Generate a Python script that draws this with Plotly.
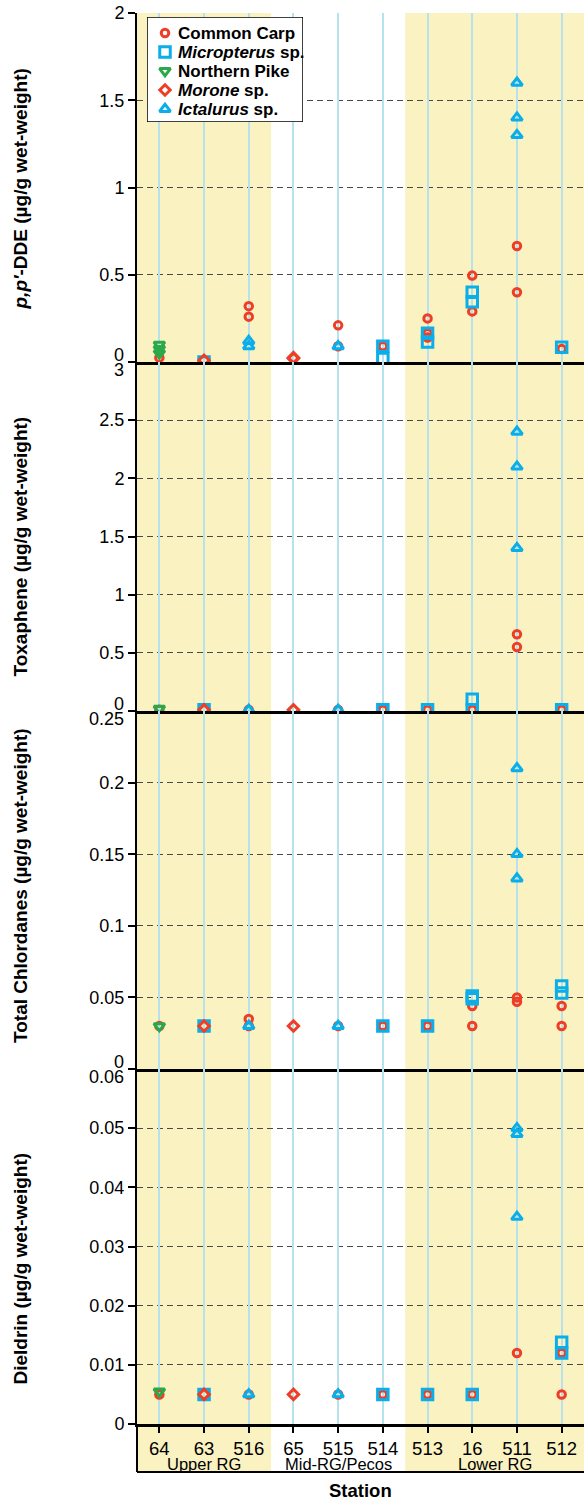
import plotly.graph_objects as go
from plotly.subplots import make_subplots

# ---- stations and river reaches ----
stations = ["64", "63", "516", "65", "515", "514", "513", "16", "511", "512"]
station_reach = ["Upper RG", "Upper RG", "Upper RG",
                 "Mid-RG/Pecos", "Mid-RG/Pecos", "Mid-RG/Pecos",
                 "Lower RG", "Lower RG", "Lower RG", "Lower RG"]
reaches = ["Upper RG", "Mid-RG/Pecos", "Lower RG"]
shaded_reaches = ["Upper RG", "Lower RG"]

# ---- fish taxa ----
species_labels = ["Common Carp", "<i>Micropterus</i> sp.", "Northern Pike",
                  "<i>Morone</i> sp.", "<i>Ictalurus</i> sp."]
species_colors = ["#EE3E25", "#0AAEEA", "#2BA84A", "#EE3E25", "#0AAEEA"]
species_symbols = ["circle-open", "square-open", "triangle-down-open",
                   "diamond-open", "triangle-up-open"]
species_sizes = [7.5, 10.5, 9.5, 8, 9.5]

# ---- p,p'-DDE (ug/g wet weight), samples per station ----
dde_carp = {"64": [0.025], "516": [0.32, 0.26], "515": [0.21, 0.09], "514": [0.09],
            "513": [0.25, 0.165, 0.14], "16": [0.495, 0.29], "511": [0.665, 0.40],
            "512": [0.075]}
dde_micropterus = {"63": [0.0], "514": [0.09, 0.02], "513": [0.165, 0.115],
                   "16": [0.40, 0.345], "512": [0.085]}
dde_pike = {"64": [0.10, 0.075, 0.05]}
dde_morone = {"63": [0.01], "65": [0.02, 0.025]}
dde_ictalurus = {"516": [0.12, 0.09], "515": [0.09], "511": [1.6, 1.4, 1.3]}

# ---- Toxaphene ----
tox_carp = {"64": [0.01], "516": [0.01], "515": [0.01], "514": [0.01], "513": [0.01],
            "16": [0.01], "511": [0.66, 0.55], "512": [0.01]}
tox_micropterus = {"63": [0.01], "514": [0.01], "513": [0.01], "16": [0.10, 0.01],
                   "512": [0.01]}
tox_pike = {"64": [0.02]}
tox_morone = {"63": [0.01], "65": [0.01]}
tox_ictalurus = {"516": [0.01], "515": [0.01], "511": [2.4, 2.1, 1.4]}

# ---- Total chlordanes ----
chl_carp = {"64": [0.03], "516": [0.035, 0.03], "515": [0.03], "514": [0.03],
            "513": [0.03], "16": [0.044, 0.03], "511": [0.05, 0.047],
            "512": [0.044, 0.03]}
chl_micropterus = {"63": [0.03], "514": [0.03], "513": [0.03], "16": [0.051, 0.049],
                   "512": [0.058, 0.053]}
chl_pike = {"64": [0.03]}
chl_morone = {"63": [0.03], "65": [0.03]}
chl_ictalurus = {"516": [0.03], "515": [0.03], "511": [0.21, 0.15, 0.133]}

# ---- Dieldrin ----
die_carp = {"64": [0.005], "516": [0.005], "515": [0.005], "514": [0.005],
            "513": [0.005], "16": [0.005], "511": [0.012], "512": [0.012, 0.005]}
die_micropterus = {"63": [0.005], "514": [0.005], "513": [0.005], "16": [0.005],
                   "512": [0.0138, 0.012]}
die_pike = {"64": [0.0055]}
die_morone = {"63": [0.005], "65": [0.005]}
die_ictalurus = {"516": [0.005], "515": [0.005], "511": [0.05, 0.049, 0.035]}

# ---- panel definitions ----
panel_titles = ["<i>p,p′</i>-DDE (µg/g wet-weight)",
                "Toxaphene (µg/g wet-weight)",
                "Total Chlordanes (µg/g wet-weight)",
                "Dieldrin (µg/g wet-weight)"]
panel_data = [
    [dde_carp, dde_micropterus, dde_pike, dde_morone, dde_ictalurus],
    [tox_carp, tox_micropterus, tox_pike, tox_morone, tox_ictalurus],
    [chl_carp, chl_micropterus, chl_pike, chl_morone, chl_ictalurus],
    [die_carp, die_micropterus, die_pike, die_morone, die_ictalurus],
]
panel_ticks = [
    [0, 0.5, 1, 1.5, 2],
    [0, 0.5, 1, 1.5, 2, 2.5, 3],
    [0, 0.05, 0.1, 0.15, 0.2, 0.25],
    [0, 0.01, 0.02, 0.03, 0.04, 0.05, 0.06],
]
panel_ticklabels = [
    ["0", "0.5", "1", "1.5", "2"],
    ["0", "0.5", "1", "1.5", "2", "2.5", "3"],
    ["0", "0.05", "0.1", "0.15", "0.2", "0.25"],
    ["0", "0.01", "0.02", "0.03", "0.04", "0.05", "0.06"],
]
panel_heights = [349, 349, 358, 355]
title_shift = [-2, -10, 4, -22]   # vertical nudge of each rotated title, px

FONT = "Liberation Sans, Arial, Helvetica, sans-serif"
YELLOW = "#FBF2C2"
STATION_LINE = "#B8E1EE"
GRID = "#4A4A4A"
MARKER_LINE = 3

fig = make_subplots(rows=4, cols=1, shared_xaxes=True, vertical_spacing=0,
                    row_heights=panel_heights)

for p, datasets in enumerate(panel_data):
    row = p + 1
    for s, samples in enumerate(datasets):
        xs, ys = [], []
        for st, vals in samples.items():
            for v in vals:
                xs.append(stations.index(st))
                ys.append(v)
        fig.add_trace(go.Scatter(
            x=xs, y=ys, mode="markers", name=species_labels[s], showlegend=False,
            marker=dict(symbol=species_symbols[s], size=species_sizes[s],
                        color=species_colors[s],
                        line=dict(width=MARKER_LINE, color=species_colors[s])),
            hoverinfo="skip",
        ), row=row, col=1)

plot_top, plot_bottom = 13, 1424
paper_w = 584 - 137
paper_h = plot_bottom - plot_top
box_bottom = -(1472 - plot_bottom) / paper_h

# x axes: one light-blue line per station, black baseline for each panel
for row in range(1, 5):
    fig.update_xaxes(
        row=row, col=1, range=[-0.5, 9.5], tickmode="array",
        tickvals=list(range(len(stations))), ticktext=stations,
        showgrid=True, gridcolor=STATION_LINE, gridwidth=1.5,
        zeroline=False, showline=True, linecolor="black", linewidth=3,
        ticks="outside" if row == 4 else "", ticklen=6, tickwidth=1.5,
        tickcolor="black", showticklabels=(row == 4),
        tickfont=dict(family=FONT, size=18.5, color="black"),
        automargin=False, fixedrange=True,
    )

# y axes
for p in range(4):
    row = p + 1
    ticks = panel_ticks[p]
    labels = list(panel_ticklabels[p])
    if p < 3:
        labels[0] = ""
    if p > 0:
        labels[-1] = ""
    fig.update_yaxes(
        row=row, col=1, range=[0, ticks[-1]], tickmode="array",
        tickvals=ticks, ticktext=labels,
        showgrid=False, zeroline=False,
        minor=dict(tickmode="array", tickvals=ticks[1:-1], showgrid=True,
                   gridcolor=GRID, griddash="6px,4px", gridwidth=1.4, ticks=""),
        ticks="outside", ticklen=7, tickwidth=1.5, tickcolor="black",
        showline=True, linecolor="black", linewidth=2,
        tickfont=dict(family=FONT, size=18, color="black"),
        automargin=False, fixedrange=True,
    )

shapes = []
annotations = []

# shaded reaches, carried down through the station label box
for reach in reaches:
    idx = [i for i, r in enumerate(station_reach) if r == reach]
    if reach in shaded_reaches:
        shapes.append(dict(type="rect", xref="x", yref="paper",
                           x0=idx[0] - 0.5, x1=idx[-1] + 0.5, y0=box_bottom, y1=1,
                           fillcolor=YELLOW, line=dict(width=0), layer="below"))
    annotations.append(dict(
        xref="x", yref="paper", x=(idx[0] + idx[-1]) / 2,
        y=-(1464 - plot_bottom) / paper_h, yanchor="middle", xanchor="center",
        text=reach, showarrow=False,
        font=dict(family=FONT, size=16.5, color="black")))

# station label box outline
shapes.append(dict(type="line", xref="paper", yref="paper", x0=0, x1=1,
                   y0=box_bottom, y1=box_bottom, line=dict(color="black", width=2)))
shapes.append(dict(type="line", xref="paper", yref="paper", x0=0, x1=0,
                   y0=box_bottom, y1=0, line=dict(color="black", width=2)))

# tick labels where two panels meet, nudged apart
yrefs = ["y", "y2", "y3", "y4"]
for p in range(4):
    if p < 3:
        annotations.append(dict(
            xref="paper", yref=yrefs[p], x=0, y=0, xshift=-11, yshift=7,
            xanchor="right", yanchor="middle", text=panel_ticklabels[p][0],
            showarrow=False, font=dict(family=FONT, size=18, color="black")))
    if p > 0:
        annotations.append(dict(
            xref="paper", yref=yrefs[p], x=0, y=panel_ticks[p][-1], xshift=-11,
            yshift=-8, xanchor="right", yanchor="middle",
            text=panel_ticklabels[p][-1], showarrow=False,
            font=dict(family=FONT, size=18, color="black")))

# panel titles
for p in range(4):
    annotations.append(dict(
        xref="paper", yref=yrefs[p] + " domain", x=(20 - 137) / paper_w, y=0.5,
        yshift=title_shift[p],
        xanchor="center", yanchor="middle", textangle=-90,
        text="<b>" + panel_titles[p] + "</b>", showarrow=False,
        font=dict(family=FONT, size=19, color="black")))

annotations.append(dict(
    xref="paper", yref="paper", x=0.5, y=-(1490 - plot_bottom) / paper_h,
    xanchor="center", yanchor="middle", text="<b>Station</b>", showarrow=False,
    font=dict(family=FONT, size=18.5, color="black")))

# ---- key: its own small subplot in the upper-left corner of the top panel ----
key_left, key_right, key_top, key_bottom = 147, 303, 17, 122
key_w = key_right - key_left
row_step = 19
first_row = 16
fig.update_layout(
    xaxis5=dict(domain=[(key_left - 137) / paper_w, (key_right - 137) / paper_w],
                range=[0, key_w], visible=False, fixedrange=True, anchor="y5"),
    yaxis5=dict(domain=[(plot_bottom - key_bottom) / paper_h,
                        (plot_bottom - key_top) / paper_h],
                range=[(key_bottom - key_top - first_row) / row_step,
                       -first_row / row_step],
                visible=False, fixedrange=True, anchor="x5"),
)
shapes.append(dict(type="rect", xref="x5", yref="y5", x0=0, x1=key_w,
                   y0=(key_bottom - key_top - first_row) / row_step,
                   y1=-first_row / row_step,
                   fillcolor="white", line=dict(color="black", width=1.5),
                   layer="below"))
for s, label in enumerate(species_labels):
    fig.add_trace(go.Scatter(
        x=[18], y=[s], xaxis="x5", yaxis="y5", mode="markers",
        showlegend=False, hoverinfo="skip",
        marker=dict(symbol=species_symbols[s], size=species_sizes[s],
                    color=species_colors[s],
                    line=dict(width=MARKER_LINE, color=species_colors[s]))))
    annotations.append(dict(
        xref="x5", yref="y5", x=29, y=s, xanchor="left", yanchor="middle",
        text="<b>" + label + "</b>", showarrow=False,
        font=dict(family=FONT, size=17, color="black")))

fig.update_layout(
    template="none",
    width=584, height=1500,
    margin=dict(l=137, r=0, t=plot_top, b=1500 - plot_bottom, pad=0),
    paper_bgcolor="white", plot_bgcolor="rgba(0,0,0,0)",
    font=dict(family=FONT, color="black"),
    shapes=shapes, annotations=annotations,
    showlegend=False,
)

fig.write_html("out.html")
